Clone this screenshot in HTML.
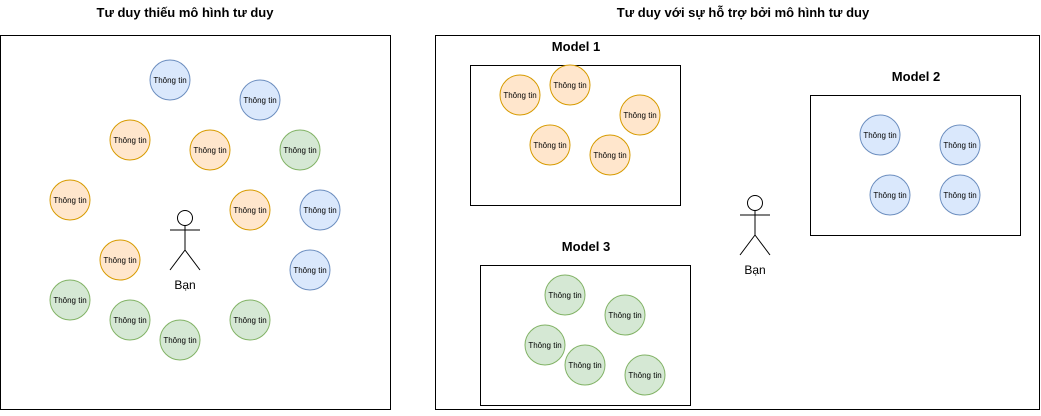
<!DOCTYPE html><html><head><style>body{margin:0;background:#fff}</style></head><body>
<svg width="1041" height="411" xmlns="http://www.w3.org/2000/svg" font-family="Liberation Sans, sans-serif">
<rect x="0" y="0" width="1041" height="411" fill="#fff"/>
<text x="185" y="17" text-anchor="middle" font-size="13" font-weight="bold">Tư duy thiếu mô hình tư duy</text>
<text x="743" y="17" text-anchor="middle" font-size="13" font-weight="bold">Tư duy với sự hỗ trợ bởi mô hình tư duy</text>
<rect x="0.5" y="35.5" width="390" height="374" fill="none" stroke="#000"/>
<rect x="435.5" y="35.5" width="604" height="374" fill="none" stroke="#000"/>
<rect x="470.5" y="65.5" width="210" height="140" fill="none" stroke="#000"/>
<rect x="810.5" y="95.5" width="210" height="140" fill="none" stroke="#000"/>
<rect x="480.5" y="265.5" width="210" height="140" fill="none" stroke="#000"/>
<g font-size="13" font-weight="bold" text-anchor="middle">
<text x="576" y="51">Model 1</text><text x="916" y="81">Model 2</text><text x="586" y="251">Model 3</text></g>
<g id="c" font-size="8" text-anchor="middle">
<g fill="#dae8fc" stroke="#6c8ebf">
<circle cx="170" cy="80" r="20"/><circle cx="260" cy="100" r="20"/><circle cx="320" cy="210" r="20"/><circle cx="310" cy="270" r="20"/>
<circle cx="880" cy="135" r="20"/><circle cx="960" cy="145" r="20"/><circle cx="890" cy="195" r="20"/><circle cx="960" cy="195" r="20"/></g>
<g fill="#ffe6cc" stroke="#d79b00">
<circle cx="130" cy="140" r="20"/><circle cx="210" cy="150" r="20"/><circle cx="70" cy="200" r="20"/><circle cx="250" cy="210" r="20"/><circle cx="120" cy="260" r="20"/>
<circle cx="520" cy="95" r="20"/><circle cx="570" cy="85" r="20"/><circle cx="640" cy="115" r="20"/><circle cx="550" cy="145" r="20"/><circle cx="610" cy="155" r="20"/></g>
<g fill="#d5e8d4" stroke="#82b366">
<circle cx="300" cy="150" r="20"/><circle cx="70" cy="300" r="20"/><circle cx="130" cy="320" r="20"/><circle cx="180" cy="340" r="20"/><circle cx="250" cy="320" r="20"/>
<circle cx="565" cy="295" r="20"/><circle cx="625" cy="315" r="20"/><circle cx="545" cy="345" r="20"/><circle cx="585" cy="365" r="20"/><circle cx="645" cy="375" r="20"/></g>
<g>
<text x="170" y="83">Thông tin</text><text x="260" y="103">Thông tin</text><text x="320" y="213">Thông tin</text><text x="310" y="273">Thông tin</text>
<text x="880" y="138">Thông tin</text><text x="960" y="148">Thông tin</text><text x="890" y="198">Thông tin</text><text x="960" y="198">Thông tin</text>
<text x="130" y="143">Thông tin</text><text x="210" y="153">Thông tin</text><text x="70" y="203">Thông tin</text><text x="250" y="213">Thông tin</text><text x="120" y="263">Thông tin</text>
<text x="520" y="98">Thông tin</text><text x="570" y="88">Thông tin</text><text x="640" y="118">Thông tin</text><text x="550" y="148">Thông tin</text><text x="610" y="158">Thông tin</text>
<text x="300" y="153">Thông tin</text><text x="70" y="303">Thông tin</text><text x="130" y="323">Thông tin</text><text x="180" y="343">Thông tin</text><text x="250" y="323">Thông tin</text>
<text x="565" y="298">Thông tin</text><text x="625" y="318">Thông tin</text><text x="545" y="348">Thông tin</text><text x="585" y="368">Thông tin</text><text x="645" y="378">Thông tin</text>
</g></g>
<g fill="none" stroke="#000">
<circle cx="185" cy="218" r="7.5"/><path d="M185 225.5V250M170 230H200M185 250L170 270M185 250L200 270"/>
<circle cx="755" cy="203" r="7.5"/><path d="M755 210.5V235M740 215H770M755 235L740 255M755 235L770 255"/>
</g>
<g font-size="12" text-anchor="middle"><text x="185" y="289">Bạn</text><text x="755" y="274">Bạn</text></g>
</svg></body></html>
